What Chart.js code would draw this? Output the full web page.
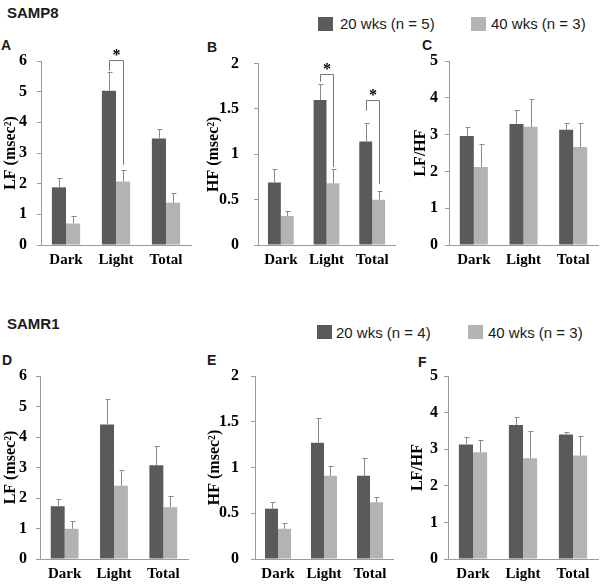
<!DOCTYPE html>
<html>
<head>
<meta charset="utf-8">
<script src="https://cdn.jsdelivr.net/npm/chart.js@4.4.1/dist/chart.umd.min.js"></script>
<style>
  html, body { margin: 0; padding: 0; background: #fff; }
  #fig { position: relative; width: 600px; height: 588px; overflow: hidden; font-family: "Liberation Sans", Arial, sans-serif; color: #1a1a1a; }
  #fig canvas, #fig .txt, #fig .sw { position: absolute; }
  .txt { white-space: nowrap; line-height: 1; }
  .group { font-weight: bold; font-size: 15px; }
  .letter { font-weight: bold; font-size: 14px; }
  .leg { font-size: 15px; }
  .sw { width: 15px; height: 14px; }
  .dark { background: #5a5a5a; }
  .light { background: #b3b3b3; }
</style>
</head>
<body>
<div id="fig">
  <div class="txt group" style="left:7px;top:5px">SAMP8</div>
  <div class="txt group" style="left:7px;top:316px">SAMR1</div>

  <div class="sw dark" style="left:318px;top:17px"></div>
  <div class="txt leg" style="left:340px;top:16px">20 wks (n = 5)</div>
  <div class="sw light" style="left:471px;top:17px"></div>
  <div class="txt leg" style="left:491px;top:16px">40 wks (n = 3)</div>

  <div class="sw dark" style="left:317px;top:325px"></div>
  <div class="txt leg" style="left:336px;top:325px">20 wks (n = 4)</div>
  <div class="sw light" style="left:468px;top:325px"></div>
  <div class="txt leg" style="left:488px;top:325px">40 wks (n = 3)</div>

  <div class="txt letter" style="left:1px;top:38px">A</div>
  <div class="txt letter" style="left:207px;top:40px">B</div>
  <div class="txt letter" style="left:422px;top:38px">C</div>
  <div class="txt letter" style="left:2px;top:353px">D</div>
  <div class="txt letter" style="left:207px;top:353px">E</div>
  <div class="txt letter" style="left:418px;top:355px">F</div>
</div>
<script>
const categories = ['Dark', 'Light', 'Total'];
const seriesLabels = ['20 wks', '40 wks'];

const lfTicks = [0, 1, 2, 3, 4, 5, 6];
const hfTicks = [0, 0.5, 1, 1.5, 2];
const ratioTicks = [0, 1, 2, 3, 4, 5];

// SAMP8: 20 wks (n = 5), 40 wks (n = 3); mean and SEM
const samp8LF20 = [1.88, 5.03, 3.47];
const samp8LF20Sem = [0.29, 0.60, 0.30];
const samp8LF40 = [0.70, 2.07, 1.38];
const samp8LF40Sem = [0.23, 0.36, 0.30];
const samp8HF20 = [0.69, 1.60, 1.14];
const samp8HF20Sem = [0.15, 0.18, 0.21];
const samp8HF40 = [0.32, 0.68, 0.50];
const samp8HF40Sem = [0.05, 0.16, 0.10];
const samp8Ratio20 = [2.96, 3.29, 3.13];
const samp8Ratio20Sem = [0.25, 0.37, 0.19];
const samp8Ratio40 = [2.12, 3.21, 2.66];
const samp8Ratio40Sem = [0.62, 0.75, 0.66];

// SAMR1: 20 wks (n = 4), 40 wks (n = 3)
const samr1LF20 = [1.73, 4.41, 3.07];
const samr1LF20Sem = [0.24, 0.85, 0.63];
const samr1LF40 = [0.99, 2.40, 1.70];
const samr1LF40Sem = [0.27, 0.53, 0.38];
const samr1HF20 = [0.55, 1.27, 0.91];
const samr1HF20Sem = [0.07, 0.27, 0.19];
const samr1HF40 = [0.33, 0.91, 0.62];
const samr1HF40Sem = [0.06, 0.11, 0.06];
const samr1Ratio20 = [3.13, 3.66, 3.40];
const samr1Ratio20Sem = [0.19, 0.22, 0.06];
const samr1Ratio40 = [2.92, 2.75, 2.83];
const samr1Ratio40Sem = [0.32, 0.75, 0.54];

// significance brackets (category index, bracket top, left/right leg ends)
const samp8LFSig = [{ index: 1, top: 6.02, left: 5.68, right: 2.62 }];
const samp8HFSig = [
    { index: 1, top: 1.89, left: 1.80, right: 0.86 },
    { index: 2, top: 1.60, left: 1.48, right: 0.67 },
];

const darkGrey = '#5a5a5a';
const lightGrey = '#b3b3b3';
const axisGrey = '#9a9a9a';
const whiskerGrey = '#8a8a8a';
const serifFamily = '"Liberation Serif", "Times New Roman", serif';
const xFont = { family: serifFamily, size: 15, weight: 'bold' };
const yFont = { family: serifFamily, size: 16, weight: 'bold' };

const PAD_TOP = 22;
const X_AXIS_H = 30;

const errorBars = {
    id: 'errorBars',
    afterDatasetsDraw(chart) {
        const { ctx } = chart;
        const yScale = chart.scales.y;
        ctx.save();
        ctx.strokeStyle = whiskerGrey;
        ctx.lineWidth = 1;
        chart.data.datasets.forEach((ds, i) => {
            chart.getDatasetMeta(i).data.forEach((bar, j) => {
                const x = Math.round(bar.x) + 0.5;
                const yTop = Math.round(yScale.getPixelForValue(ds.data[j] + ds.sem[j])) + 0.5;
                ctx.beginPath();
                ctx.moveTo(x, bar.y);
                ctx.lineTo(x, yTop);
                ctx.moveTo(x - 2, yTop);
                ctx.lineTo(x + 3, yTop);
                ctx.stroke();
            });
        });
        ctx.restore();
    },
};

function bracketPlugin(sig) {
    return {
        id: 'brackets',
        afterDatasetsDraw(chart) {
            const { ctx } = chart;
            const yScale = chart.scales.y;
            ctx.save();
            ctx.strokeStyle = '#777';
            ctx.lineWidth = 1;
            sig.forEach((s) => {
                const x1 = Math.round(chart.getDatasetMeta(0).data[s.index].x) + 0.5;
                const x2 = Math.round(chart.getDatasetMeta(1).data[s.index].x) + 0.5;
                const yt = Math.round(yScale.getPixelForValue(s.top)) + 0.5;
                ctx.beginPath();
                ctx.moveTo(x1, yScale.getPixelForValue(s.left));
                ctx.lineTo(x1, yt);
                ctx.lineTo(x2, yt);
                ctx.lineTo(x2, yScale.getPixelForValue(s.right));
                ctx.stroke();
                ctx.fillStyle = '#000';
                ctx.font = 'bold 16px "Liberation Serif", serif';
                ctx.textAlign = 'center';
                ctx.textBaseline = 'alphabetic';
                ctx.fillText('*', (x1 + x2) / 2, yt - 0.5);
            });
            ctx.restore();
        },
    };
}

const panels = [
    { left: 1, yw: 40, plotW: 150, plotTop: 61, plotH: 184, tickPad: 10, ticks: lfTicks, title: 'LF (msec²)',
      young: samp8LF20, youngSem: samp8LF20Sem, old: samp8LF40, oldSem: samp8LF40Sem, sig: samp8LFSig },
    { left: 204, yw: 54, plotW: 137, plotTop: 61, plotH: 184, tickPad: 15, ticks: hfTicks, title: 'HF (msec²)',
      young: samp8HF20, youngSem: samp8HF20Sem, old: samp8HF40, oldSem: samp8HF40Sem, sig: samp8HFSig },
    { left: 411, yw: 38, plotW: 149, plotTop: 61, plotH: 184, tickPad: 7, ticks: ratioTicks, title: 'LF/HF',
      young: samp8Ratio20, youngSem: samp8Ratio20Sem, old: samp8Ratio40, oldSem: samp8Ratio40Sem, sig: [] },
    { left: 1, yw: 39, plotW: 148, plotTop: 376, plotH: 183, tickPad: 9, ticks: lfTicks, title: 'LF (msec²)',
      young: samr1LF20, youngSem: samr1LF20Sem, old: samr1LF40, oldSem: samr1LF40Sem, sig: [] },
    { left: 205, yw: 50, plotW: 138, plotTop: 376, plotH: 183, tickPad: 12, ticks: hfTicks, title: 'HF (msec²)',
      young: samr1HF20, youngSem: samr1HF20Sem, old: samr1HF40, oldSem: samr1HF40Sem, sig: [] },
    { left: 408, yw: 40, plotW: 150, plotTop: 376, plotH: 183, tickPad: 6, ticks: ratioTicks, title: 'LF/HF',
      young: samr1Ratio20, youngSem: samr1Ratio20Sem, old: samr1Ratio40, oldSem: samr1Ratio40Sem, sig: [] },
];

const fig = document.getElementById('fig');

panels.forEach((p) => {
    const canvas = document.createElement('canvas');
    canvas.width = p.yw + p.plotW + 2;
    canvas.height = PAD_TOP + p.plotH + X_AXIS_H;
    canvas.style.left = p.left + 'px';
    canvas.style.top = (p.plotTop - PAD_TOP) + 'px';
    fig.appendChild(canvas);

    new Chart(canvas, {
        type: 'bar',
        data: {
            labels: categories,
            datasets: [
                { label: seriesLabels[0], data: p.young, sem: p.youngSem, backgroundColor: darkGrey },
                { label: seriesLabels[1], data: p.old, sem: p.oldSem, backgroundColor: lightGrey },
            ],
        },
        options: {
            responsive: false,
            animation: false,
            devicePixelRatio: 1,
            layout: { padding: { top: PAD_TOP, right: 2, left: 0, bottom: 0 } },
            datasets: { bar: { barPercentage: 1, categoryPercentage: 0.565 } },
            plugins: { legend: { display: false }, tooltip: { enabled: false } },
            scales: {
                x: {
                    afterFit: (s) => { s.height = X_AXIS_H; },
                    grid: { display: false, drawTicks: false },
                    border: { color: axisGrey },
                    ticks: { padding: 6, color: '#000', font: xFont, maxRotation: 0 },
                },
                y: {
                    min: 0,
                    max: p.ticks[p.ticks.length - 1],
                    afterBuildTicks: (s) => { s.ticks = p.ticks.map((v) => ({ value: v })); },
                    afterFit: (s) => { s.width = p.yw; },
                    grid: { drawOnChartArea: false, drawTicks: true, tickLength: 4, color: axisGrey },
                    border: { color: axisGrey },
                    ticks: { padding: p.tickPad, color: '#000', font: yFont, callback: (v) => String(v) },
                    title: { display: true, text: p.title, color: '#000', font: yFont, padding: 0 },
                },
            },
        },
        plugins: [errorBars, bracketPlugin(p.sig)],
    });
});
</script>
</body>
</html>
